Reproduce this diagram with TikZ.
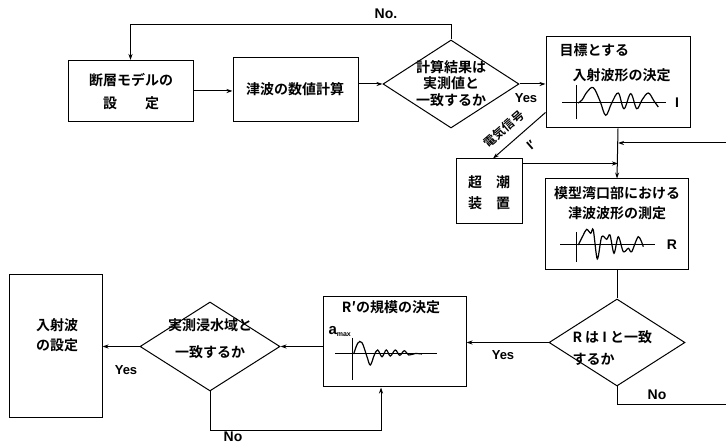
\documentclass[tikz,border=0pt]{standalone}
\usepackage{fontspec}
\setmainfont{Liberation Sans}
\newfontfamily\jp{Noto Sans CJK JP}[BoldFont={Noto Sans CJK JP Bold}]
\usetikzlibrary{shapes.geometric,arrows.meta,calc}
\begin{document}
\begin{tikzpicture}[x=1pt,y=-1pt,line width=1pt,
  font=\jp\bfseries\fontsize{14}{16}\selectfont,
  box/.style={draw,rectangle,inner sep=0pt},
  dia/.style={draw,diamond,inner sep=0pt},
  txt/.style={inner sep=0pt,align=center},
  lat/.style={inner sep=0pt,font=\rmfamily\bfseries\fontsize{13}{15}\selectfont},
  arr/.style={-{Stealth[length=6pt,width=4pt]}},
  wave/.style={line width=1.2pt}]
\useasboundingbox (0,0) rectangle (726,446);

% boxes
\node[box,minimum width=125pt,minimum height=61pt] (b1) at (130.5,91) {};
\node[txt,font=\jp\bfseries\fontsize{14}{23}\selectfont] (t1) at (131,91.5) {断層モデルの\\設　　定};
\node[box,minimum width=125pt,minimum height=64pt] (b2) at (295.5,90) {};
\node[txt] (t2) at (295,89) {津波の数値計算};
\node[dia,minimum width=136pt,minimum height=88pt] (d1) at (451,84) {};
\node[txt,font=\jp\bfseries\fontsize{14}{16.5}\selectfont] (td1) at (451,83.5) {計算結果は\\実測値と\\一致するか};
\node[box,minimum width=144pt,minimum height=91pt] (b3) at (618,82.5) {};
\node[txt,anchor=west] (t3a) at (559,50) {目標とする};
\node[txt,anchor=west] (t3b) at (572,75) {入射波形の決定};
\node[box,minimum width=66pt,minimum height=65pt] (cho) at (489,191.5) {};
\node[txt,font=\jp\bfseries\fontsize{14}{21}\selectfont] (tcho) at (489,192.5) {超　潮\\装　置};
\node[box,minimum width=143pt,minimum height=91pt] (b4) at (617,224.5) {};
\node[txt,font=\jp\bfseries\fontsize{14}{20}\selectfont] (t4) at (617,203) {模型湾口部における\\津波波形の測定};
\node[dia,minimum width=136pt,minimum height=87pt] (d2) at (617,342.5) {};
\node[txt,align=left,anchor=west,font=\jp\bfseries\fontsize{14}{22}\selectfont] (td2) at (572,348) {R は I と一致\\するか};
\node[box,minimum width=143pt,minimum height=90pt] (b5) at (394.5,342) {};
\node[txt] (t5) at (391,307) {R′の規模の決定};
\node[dia,minimum width=140pt,minimum height=89pt] (d3) at (210,346.5) {};
\node[txt,font=\jp\bfseries\fontsize{14}{27}\selectfont] (td3) at (210,338.5) {実測浸水域と\\一致するか};
\node[box,minimum width=93pt,minimum height=142pt] (b6) at (55.5,346) {};
\node[txt,font=\jp\bfseries\fontsize{14}{20}\selectfont] (t6) at (57,335) {入射波\\の設定};

% coordinates
\coordinate (topy) at (0,25);
\coordinate (fbR) at (726,143);
\coordinate (fbB) at (726,405);
\coordinate (nob) at (381,430);

% connectors
\draw[arr] (b1.east) -- (b1.east -| b2.west);
\draw[arr] (d1.west -| b2.east) -- (d1.west);
\draw[arr] (d1.north) -- (d1.north |- topy) -| (b1.north);
\draw[arr] (d1.east) -- (d1.east -| b3.west);
\draw[arr] ([yshift=16pt]b3.south west) -- ([xshift=4pt]cho.north);
\draw[arr] ([yshift=-5pt]cho.north east) -- ([yshift=-5pt]cho.north east -| b3.south);
\draw[arr] (b3.south) -- (b4.north);
\draw[arr] (fbR) -- (fbR -| b3.south);
\draw (b4.south) -- (d2.north);
\draw[arr] (d2.west) -- (d2.west -| b5.east);
\draw (d2.south) |- (fbB);
\draw[arr] (b5.west |- d3.east) -- (d3.east);
\draw[arr] (d3.west) -- (d3.west -| b6.east);
\draw[arr] (d3.south) |- (nob) -- (nob |- b5.south);

% labels
\node[lat,font=\rmfamily\bfseries\fontsize{14}{16}\selectfont] (lno1) at (386,14) {No.};
\node[lat] (lyes1) at (526,98) {Yes};
\node[txt,rotate=41,font=\jp\bfseries\fontsize{12}{14}\selectfont] (lsig) at (504,129) {電気信号};
\node[lat,rotate=41] (lip) at (531,145) {I′};
\node[lat] (lyes2) at (503,355) {Yes};
\node[lat,font=\rmfamily\bfseries\fontsize{14}{16}\selectfont] (lno2) at (657,395) {No};
\node[lat] (lyes3) at (126,370) {Yes};
\node[lat,font=\rmfamily\bfseries\fontsize{14}{16}\selectfont] (lno3) at (233,437) {No};
\node[lat,font=\rmfamily\bfseries\fontsize{14}{16}\selectfont] (lI) at (677,103) {I};
\node[lat,font=\rmfamily\bfseries\fontsize{14}{16}\selectfont] (lR) at (672,245) {R};
\node[lat,anchor=west,font=\rmfamily\bfseries\fontsize{15}{16}\selectfont] (lamax) at (328,331) {a\raisebox{-2pt}{\fontsize{7}{8}\selectfont max}};

% wave I
\begin{scope}[shift={(576,103)},y=1pt]
\draw (-14,0) -- (90,0);
\draw (0,18) -- (0,-16);
\draw[wave] plot[smooth,tension=0.6] coordinates {(2,0) (6,3) (11,11) (17.3,15.3) (24,2) (29.7,-12.3) (35.7,0) (42.3,10) (48,-5.7) (54.7,9.3) (60.7,-5.7) (66,3) (72.3,10) (78,2) (82.3,-4)};
\end{scope}
% wave R
\begin{scope}[shift={(576,245)},y=1pt]
\draw (-16,0) -- (79,0);
\draw (0,13) -- (0,-17);
\draw[wave] plot[smooth,tension=0.5] coordinates {(2.3,0) (7.3,10) (10.7,15.7) (14.7,11.7) (17.3,15) (21.3,-14) (25.7,8.3) (30.7,5.7) (34,10) (38,-8.3) (42.3,8.3) (47.3,-6.7) (52.3,-3.3) (55.7,-6.7) (62.3,8.3) (67.3,-1.7)};
\end{scope}
% wave R'
\begin{scope}[shift={(352,354)},y=1pt]
\draw (-17,0) -- (85,0);
\draw (0,16) -- (0,-26);
\draw[wave] plot[smooth,tension=0.6] coordinates {(1.7,0) (5.7,10.7) (10,11.3) (15,-2.7) (18.3,-11) (22.3,-1) (25.7,4) (30,-2.7) (34.3,4) (38.3,-2) (43.3,4) (47.7,-1.3) (52.3,3.3) (56.7,-1) (63.3,0.5) (70,0)};
\end{scope}
\end{tikzpicture}
\end{document}
